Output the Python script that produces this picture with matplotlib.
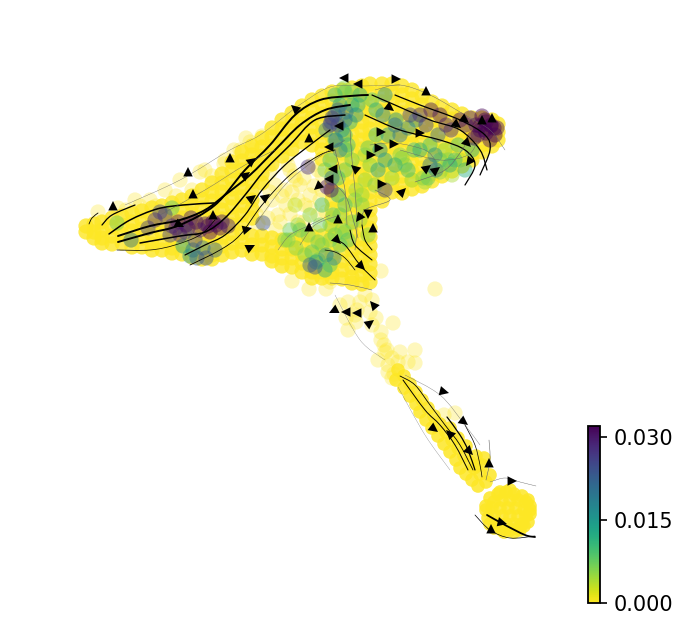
import matplotlib
matplotlib.use("Agg")
import matplotlib.pyplot as plt
from matplotlib.patches import FancyArrowPatch, PathPatch
from matplotlib.path import Path
from matplotlib.cm import ScalarMappable
from matplotlib.colors import Normalize

# dense yellow cells, one (x, [y...]) per column
core_columns = [
 (86,[226,232]),(94,[224,232,238]),(102,[222,230,238,243]),(112,[218,227,236,244]),
 (122,[216,225,234,243]),(132,[213,222,231,240,247]),(142,[211,220,229,238,247]),
 (152,[208,217,226,235,244,250]),(162,[206,215,224,233,242,250]),
 (172,[203,212,221,230,239,248,253]),(182,[200,209,218,227,236,245,254]),
 (192,[196,205,214,223,232,241,250,257]),(202,[190,199,208,217,226,235,244,253,259]),
 (212,[183,192,201,210,219,228,237,246,255,259]),(222,[174,183,192,201,210,219,228,237,246,255]),
 (232,[162,171,180,189,198,207,216,225,234,243,252]),(242,[152,161,170,179,188,197,206,215,224,233,242,250]),
 (252,[146,155,164,173,182,191,200,209,218,236,245,254]),(262,[138,147,156,165,174,183,236,245,254]),
 (272,[128,137,146,155,164,238,247,256,261]),(282,[120,129,138,147,156,240,249,258,266]),
 (292,[113,122,131,140,149,240,249,258,267]),(302,[106,115,124,133,142,236,245,254,263,272]),
 (312,[100,109,118,127,136,145,236,245,254,263,272,278]),
 (322,[96,105,114,123,132,141,150,159,236,245,254,263,272,278]),
 (332,[92,101,110,119,128,137,146,155,164,173,182,191,200,209,218,227,236,245,254,263,272,278]),
 (342,[90,99,108,117,126,135,144,153,162,171,180,189,198,207,216,225,234,243,252,261,270,279]),
 (352,[88,97,106,115,124,133,142,151,160,169,178,187,196,205,214,223,232,241,250,259,268,277,283]),
 (362,[86,95,104,113,122,131,140,149,158,167,176,185,194,203,212,221,230,239,248,257,266,275,284]),
 (370,[84,93,102,111,120,129,138,147,156,165,174,183,192,201,210,219,228,237,246,255,264,273,282]),
 (382,[84,93,102,111,120,129,138,147,156,165,174,183,192,201]),
 (392,[84,93,102,111,120,129,138,147,156,165,174,183,192]),
 (402,[86,95,104,113,122,131,140,149,158,167,176,185,193]),
 (412,[90,99,108,117,126,135,144,153,162,171,180,189]),
 (422,[96,105,114,123,132,141,150,159,168,177,186]),
 (432,[102,111,120,129,138,147,156,165,174,181]),
 (442,[106,115,124,133,142,151,160,169,176]),
 (452,[110,119,128,137,146,155,164,171]),
 (462,[114,123,132,141,150,159,166]),
 (472,[118,127,136,145,154,160]),
 (482,[118,127,136,145,152]),
 (492,[120,129,138,146]),
 (498,[124,132,140]),
]

# tail and end blob cells
tail_x = [398,404,396,410,404,416,410,422,416,428,420,434,426,440,432,446,438,452,444,458,450,464,456,470,460,476,466,480,472,486,478,
          482,476,466,458,490,450,474,484,
          490,498,506,514,522,528,486,494,502,510,518,526,530,486,492,500,508,516,524,530,
          488,494,502,510,518,526,530,490,498,506,514,522,528,494,502,510,518,524,504,514,520,500,510]
tail_y = [370,376,380,384,388,392,396,400,404,408,412,416,420,424,428,432,436,440,444,448,452,456,460,462,468,466,474,474,480,482,486,
          465,456,446,438,475,428,468,458,
          498,494,492,494,496,500,506,502,500,500,500,502,506,510,508,508,508,508,510,510,
          518,516,516,516,516,516,514,524,524,524,524,524,522,528,530,530,528,526,532,532,530,492,490]

# sparse pale cells
pale_x = [98,118,135,150,165,180,200,205,225,240,250,262,250,280,290,275,285,300,310,270,296,286,305,318,278,262,272,298,
          292,309,326,348,357,365,381,435,393,348,372,381,387,384,388,320,360,340,355,415,300,318,338,372,
          385,392,415,408,455,437,392,444,370,376,381,356,346,378,388,400,398,394,
          312,322,304,314,294,270,282,262,256,322,310,298,280,268,290,304,316,300,258,276,288,292,320,326,
          234,246,224,212,192,176,156,140,126,268,254,288,330]
pale_y = [212,208,200,200,190,180,172,170,160,150,142,136,168,148,170,185,190,185,195,172,180,205,205,170,215,182,200,222,
          281,289,289,302,310,295,271,289,323,330,325,340,350,345,365,275,302,305,315,350,228,215,230,300,
          352,358,363,362,413,423,378,415,312,318,332,322,318,360,372,352,362,374,
          165,175,178,186,176,192,196,205,214,190,208,200,222,218,214,222,232,238,224,230,165,192,200,212,
          150,138,164,176,190,196,206,206,210,166,150,155,282]

# coloured cells: position and value
value_x = [155,165,178,186,191,200,208,216,222,228,148,131,170,180,195,160,172,117,172,193,203,215,190,183,197,206,
           335,345,360,335,331,345,330,352,340,356,345,335,346,330,345,325,352,338,
           385,376,372,383,395,410,420,431,440,446,451,460,466,476,485,491,495,485,490,478,470,482,497,
           370,365,375,385,395,405,420,430,435,430,440,445,455,465,423,408,380,365,385,362,
           355,340,330,320,310,300,290,285,310,315,325,330,318,305,345,322,330,295,308,327,331,263,333,
           400,412,450,428,452,440,425,460,
           338,346,332,338,326,342,350,336,340,348,358,352,344,332,322,338,345,352,335,342,
           486,491,480,494,486,474,480,213,205,220,188,196,185,210,176,
           318,308,298,288,340,348,334,326,316,296,312,356,362,368,360,
           400,388,396,408,416,426,438,414,376,368,392,378,402,436,448,458,472]
value_y = [220,215,222,225,218,230,226,225,222,226,228,240,235,235,240,212,208,223,226,250,248,250,256,246,258,258,
           95,92,95,115,122,120,125,105,105,115,135,140,150,160,170,170,160,178,
           95,110,100,115,125,115,115,110,115,125,130,120,125,125,120,125,135,130,140,135,118,116,128,
           165,180,185,160,165,165,150,145,155,165,160,150,160,170,178,170,150,155,190,195,
           200,215,225,225,215,230,230,240,265,267,270,265,260,255,232,245,240,205,167,187,190,223,215,
           155,180,165,178,175,172,182,160,
           110,112,118,125,130,130,122,140,150,145,105,92,88,178,205,195,205,222,235,230,
           122,126,126,128,133,138,130,222,224,228,228,222,232,232,228,
           242,235,225,240,245,240,258,255,262,248,252,190,205,235,220,
           135,135,120,128,120,125,135,150,135,148,178,170,158,170,160,145,150]
value_c = [.028,.027,.030,.031,.030,.030,.031,.031,.030,.029,.026,.020,.026,.029,.026,.025,.008,.007,.028,.018,.020,.022,.016,.014,.022,.024,
           .010,.008,.012,.020,.024,.020,.026,.012,.014,.016,.012,.010,.008,.009,.008,.007,.007,.010,
           .016,.012,.009,.018,.020,.026,.028,.030,.030,.029,.028,.031,.030,.031,.032,.032,.032,.031,.031,.030,.030,.032,.031,
           .006,.005,.006,.014,.012,.006,.012,.010,.016,.020,.007,.006,.010,.012,.006,.010,.016,.005,.026,.005,
           .006,.006,.005,.007,.006,.008,.007,.006,.022,.024,.012,.008,.006,.006,.006,.005,.006,.003,.028,.030,.030,.024,.008,
           .006,.005,.012,.008,.004,.006,.005,.004,
           .022,.020,.026,.024,.018,.014,.012,.020,.018,.010,.012,.006,.006,.020,.010,.012,.009,.007,.007,.006,
           .032,.032,.032,.032,.032,.032,.031,.032,.030,.031,.030,.031,.022,.032,.030,
           .007,.006,.005,.006,.008,.009,.018,.016,.014,.006,.008,.005,.006,.006,.005,
           .020,.015,.016,.018,.018,.026,.022,.010,.010,.008,.005,.014,.006,.018,.006,.010,.012]

# stream lines: (width, xs, ys)
stream_lines = [
 (1.1,[109,130,157,183,214],[234,220,209,205,203]),
 (1.4,[118,150,180,205,225,250,275,300,325,350],[236,226,220,210,195,175,150,125,110,105]),
 (1.4,[118,150,180,215,245,270,295,320,350,368],[242,233,225,205,170,145,115,100,96,95]),
 (1.1,[140,180,205,225,245,265,290,315,345],[243,236,232,218,195,170,145,120,115]),
 (0.9,[185,205,225,245,262,285,310,330],[255,245,235,215,190,165,145,130]),
 (0.6,[190,220,240,262,290,320,335],[265,250,235,205,175,155,150]),
 (0.5,[117,150,175,200,215],[250,250,245,235,220]),
 (0.6,[89,92,98],[224,218,213]),
 (0.9,[102,112,135],[225,215,205]),
 (0.25,[125,180,230,260,295],[205,180,150,135,108]),
 (0.3,[160,205,245,275],[215,190,165,150]),
 (0.3,[255,285,315,345],[225,185,160,140]),
 (0.25,[295,330,365,400],[108,87,86,85]),
 (0.9,[372,395,430,460,480,487],[95,105,120,130,150,170]),
 (0.9,[365,400,440,465,475,465],[115,130,140,150,165,185]),
 (0.9,[395,420,460,485,490,480],[95,105,120,135,150,175]),
 (0.3,[375,400,430,465,490,505],[90,85,95,115,130,150]),
 (0.3,[400,440,468,478],[150,160,155,140]),
 (0.4,[415,445,462,470],[182,170,150,135]),
 (0.3,[370,395,425,435],[145,143,150,160]),
 (0.4,[350,352,355,357,355],[130,160,190,225,250]),
 (0.4,[335,340,345,347],[150,170,190,225]),
 (0.4,[330,345,352,358],[180,195,215,238]),
 (0.4,[375,390,365,362],[190,200,210,225]),
 (0.7,[362,365,372],[225,240,250]),
 (0.8,[350,355,372],[230,245,260]),
 (0.7,[335,345,360,375],[240,245,265,280]),
 (0.5,[325,335,345,355],[250,252,258,270]),
 (0.3,[278,290,310,330],[250,235,225,215]),
 (0.3,[300,315,340],[245,225,215]),
 (0.4,[330,350,372],[283,285,290]),
 (0.2,[335,360,385],[295,340,360]),
 (0.6,[400,415,430,445,460,473],[376,385,405,425,445,470]),
 (0.7,[403,425,440,455,468],[380,410,425,445,470]),
 (0.9,[447,460,468,475],[417,435,450,470]),
 (0.5,[465,475,480,482],[425,445,465,477]),
 (0.4,[489,490,486],[440,460,480]),
 (0.2,[398,425,450],[387,435,470]),
 (0.25,[405,440,465,480],[375,395,425,445]),
 (0.3,[490,505,520,536],[482,478,482,486]),
 (1.3,[487,505,525,535],[515,525,535,537]),
 (0.5,[475,490,510,535],[515,530,538,536]),
]

# arrow heads: tail x, tail y, head x, head y
arrow_x0 = [347,361,393,426,299,342,386,309,332,378,417,391,376,368,336,332,322,359,379,400,423,432,453,461,482,492,463,472,230,188,193,113,248,242,248,262,213,176,244,247,309,338,362,368,373,333,357,
            337,349,360,376,366,441,460,430,454,465,489,509,499,491]
arrow_y0 = [78,84,79,92,112,126,105,139,147,132,133,144,148,155,169,179,183,172,184,194,171,173,122,117,122,120,139,158,159,173,195,207,164,178,201,200,217,223,230,249,229,221,214,212,230,236,262,
            309,312,313,308,326,391,419,426,438,447,466,481,522,531]
arrow_x1 = [339,353,401,426,291,334,394,309,324,386,425,399,384,376,328,324,314,351,387,406,431,440,461,469,482,492,471,466,230,188,193,113,256,250,256,270,213,184,252,255,309,338,356,368,373,341,365,
            329,341,352,370,374,449,468,438,446,473,489,517,507,491]
arrow_y1 = [78,84,79,86,105,126,111,133,147,132,133,144,148,155,169,179,190,165,184,188,165,167,128,123,115,113,147,166,153,167,189,201,158,172,195,194,210,227,228,245,222,214,222,219,223,244,270,
            313,312,313,301,320,393,425,432,430,455,458,481,524,524]

cbar_ticks = [0.0, 0.015, 0.03]
cbar_labels = ["0.000", "0.015", "0.030"]
V_MAX = 0.032

fig = plt.figure(figsize=(6.89, 6.30), dpi=100)
ax = fig.add_axes([0, 0, 1, 1])
ax.set_xlim(0, 689)
ax.set_ylim(630, 0)
ax.axis("off")

norm = Normalize(0, V_MAX)
cmap = "viridis_r"
S = 120


def smooth_path(xs, ys):
    """Bezier path that passes through every listed point."""
    pts = list(zip(xs, ys))
    verts, codes = [pts[0]], [Path.MOVETO]
    for i in range(len(pts) - 1):
        p0 = pts[max(i - 1, 0)]
        p1 = pts[i]
        p2 = pts[i + 1]
        p3 = pts[min(i + 2, len(pts) - 1)]
        verts += [(p1[0] + (p2[0] - p0[0]) / 6, p1[1] + (p2[1] - p0[1]) / 6),
                  (p2[0] - (p3[0] - p1[0]) / 6, p2[1] - (p3[1] - p1[1]) / 6), p2]
        codes += [Path.CURVE4] * 3
    return Path(verts, codes)


ax.scatter(pale_x, pale_y, s=S, c=[0] * len(pale_x), cmap=cmap, norm=norm, alpha=0.3, linewidths=0, zorder=1)
core_x = [c[0] for c in core_columns for _ in c[1]]
core_y = [y for c in core_columns for y in c[1]]
ax.scatter(core_x, core_y, s=S, c=[0] * len(core_x), cmap=cmap, norm=norm, alpha=0.8, linewidths=0, zorder=2)
ax.scatter(tail_x, tail_y, s=S * 0.8, c=[0] * len(tail_x), cmap=cmap, norm=norm, alpha=0.85, linewidths=0, zorder=2)

order = sorted(range(len(value_c)), key=lambda i: value_c[i])
ax.scatter([value_x[i] for i in order], [value_y[i] for i in order], s=S,
           c=[value_c[i] for i in order], cmap=cmap, norm=norm, alpha=0.45, linewidths=0, zorder=3)

for lw, xs, ys in stream_lines:
    col = "k" if lw >= 0.5 else "0.4"
    ax.add_patch(PathPatch(smooth_path(xs, ys), facecolor="none", edgecolor=col, lw=lw, capstyle="round", zorder=4))

for x0, y0, x1, y1 in zip(arrow_x0, arrow_y0, arrow_x1, arrow_y1):
    ax.add_patch(FancyArrowPatch((x0, y0), (x1, y1), arrowstyle="-|>", mutation_scale=17,
                                 color="k", lw=0, shrinkA=0, shrinkB=0, zorder=5))

cax = fig.add_axes([588 / 689, (630 - 603) / 630, 12 / 689, 177 / 630])
cb = fig.colorbar(ScalarMappable(norm=norm, cmap=cmap), cax=cax)
cb.set_ticks(cbar_ticks)
cb.set_ticklabels(cbar_labels)
cb.ax.tick_params(labelsize=15, length=5, width=1.2, pad=5)
cb.outline.set_linewidth(1.3)

fig.savefig("out.png", dpi=100)
